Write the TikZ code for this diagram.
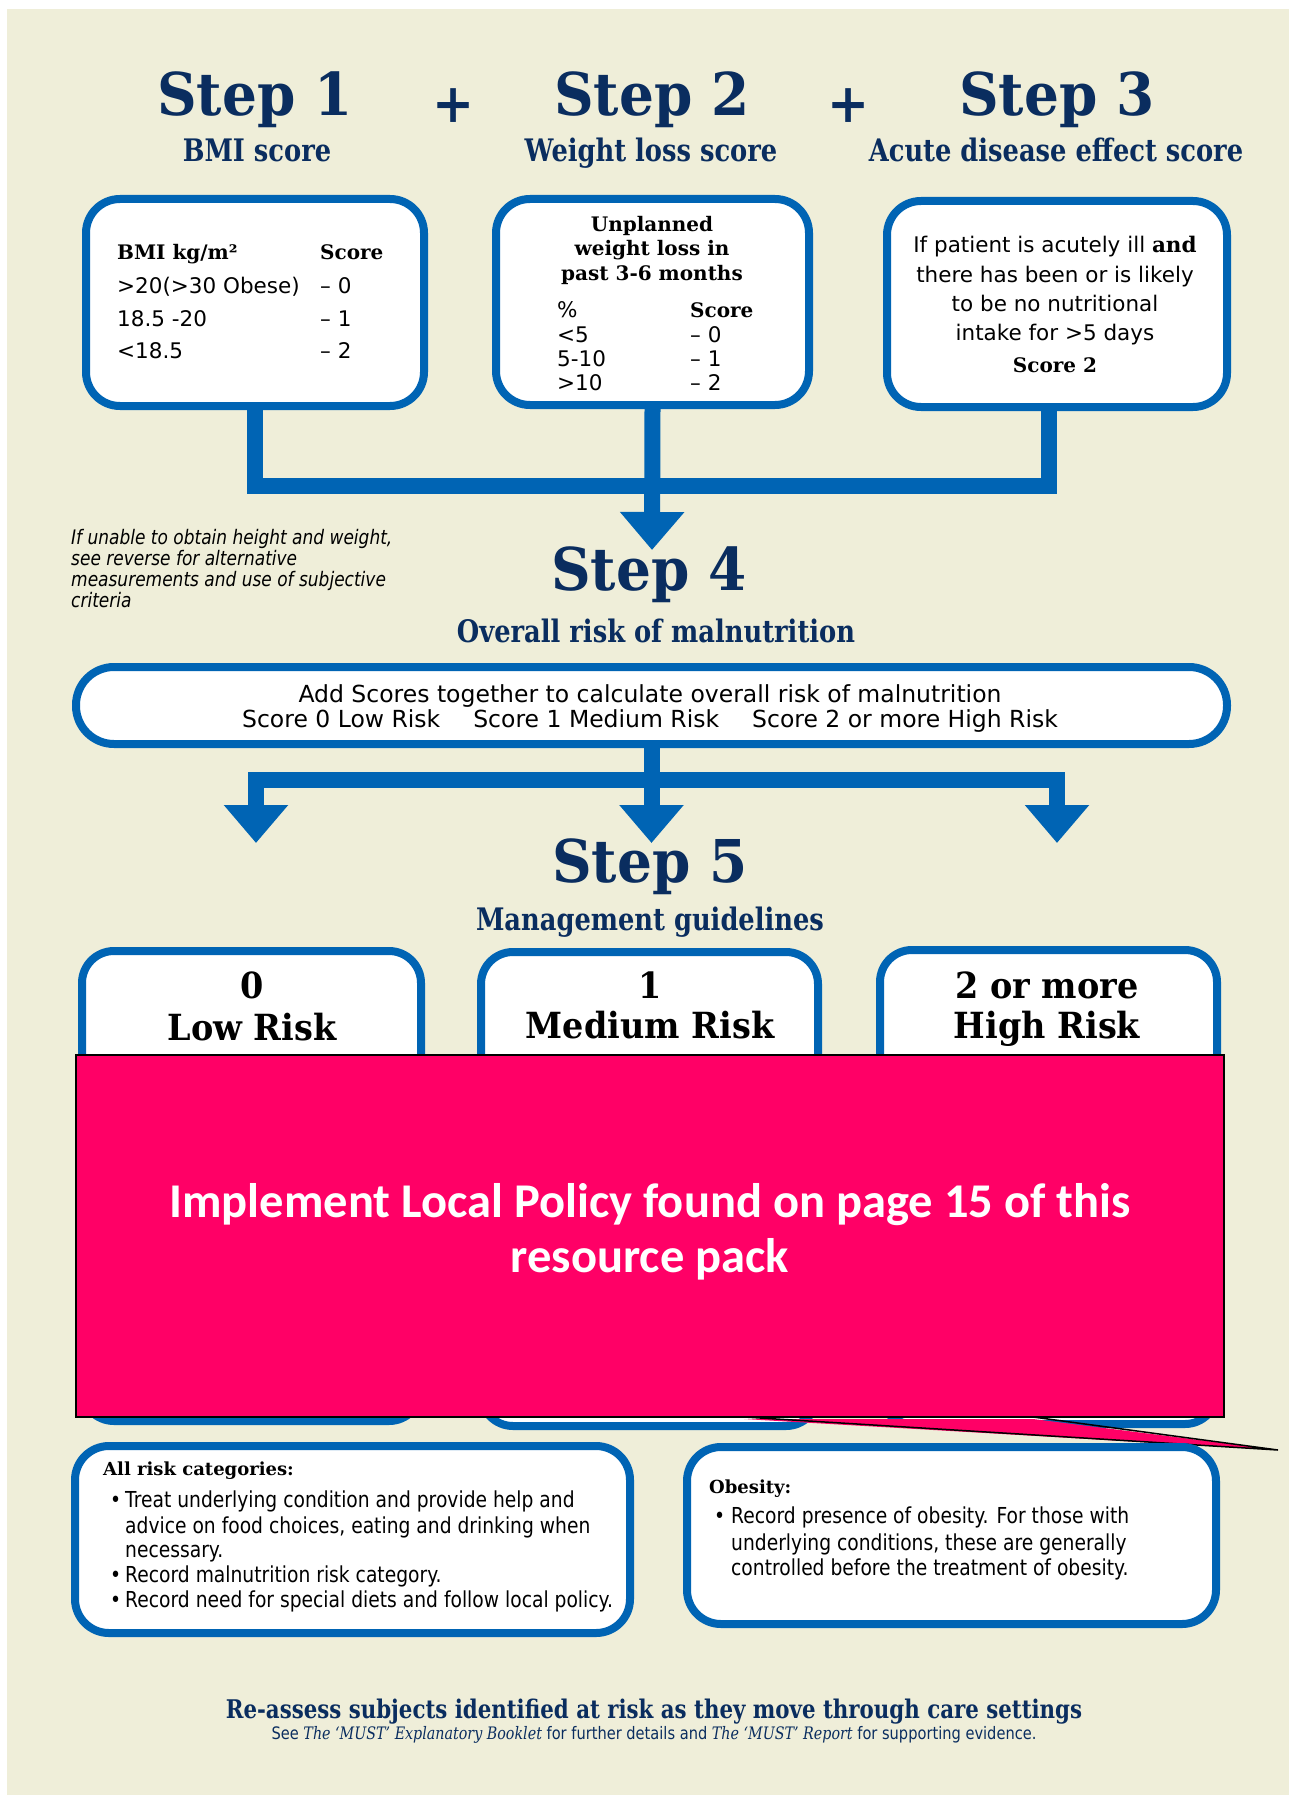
\documentclass[tikz,border=0pt]{standalone}
\usepackage{fontspec}
\setmainfont{DejaVu Serif}
\newfontfamily\stepfont[FakeStretch=0.93]{DejaVu Serif}
\newfontfamily\subfont[FakeStretch=0.83]{DejaVu Serif}
\newfontfamily\boxsans{DejaVu Sans}
\newfontfamily\condsans[FakeStretch=0.85]{DejaVu Sans}
\newfontfamily\pinkfont{Carlito}
\usetikzlibrary{arrows.meta}
\definecolor{mustnavy}{RGB}{10,45,95}
\definecolor{mustblue}{RGB}{0,100,180}
\definecolor{paper}{RGB}{239,238,217}
\definecolor{policypink}{RGB}{255,0,102}
\newcommand\setfs[1]{\fontsize{#1}{#1}\selectfont}

\begin{document}
\begin{tikzpicture}[
  x=1pt, y=-1pt,
  every node/.style={inner sep=0pt},
  stephead/.style={anchor=base, text=mustnavy, font=\stepfont\bfseries\setfs{59}},
  subhead/.style={anchor=base, text=mustnavy, font=\subfont\bfseries\setfs{31}},
  plus/.style={text=mustnavy, font=\stepfont\bfseries\setfs{54}},
  scorebox/.style={draw=mustblue, line width=8pt, fill=white, rounded corners=34pt},
  bar/.style={draw=mustblue, line width=16pt},
  >={Triangle[width=62pt,length=38pt]},
  boxhead/.style={anchor=base west, font=\bfseries\setfs{20}},
  boxtxt/.style={anchor=base west, font=\boxsans\setfs{21.5}},
  risktxt/.style={anchor=base, font=\boxsans\setfs{23.5}},
  risklabel/.style={anchor=base, font=\stepfont\bfseries\setfs{36}},
  notetxt/.style={anchor=base west, font=\condsans\itshape\setfs{20}},
  listtxt/.style={anchor=base west, font=\condsans\setfs{22}},
  policytxt/.style={anchor=base, text=white, font=\pinkfont\bfseries\setfs{48.5}},
]
  \useasboundingbox (0,0) rectangle (1289,1795);
  \fill[paper] (7,9) rectangle (1289,1795);

  % Step headings and sub titles
  \node[stephead] (step1) at (255,116) {Step 1};
  \node[plus] (plus1) at (454,106) {+};
  \node[stephead] (step2) at (652,116) {Step 2};
  \node[plus] (plus2) at (849,106) {+};
  \node[stephead] (step3) at (1057,116) {Step 3};
  \node[subhead] (sub1) at (257,162) {BMI score};
  \node[subhead] (sub2) at (651,162) {Weight loss score};
  \node[subhead] (sub3) at (1056,162) {Acute disease effect score};

  % Score boxes
  \node[scorebox, minimum width=338pt, minimum height=207pt] (bmibox) at (255,302.5) {};
  \node[scorebox, minimum width=313pt, minimum height=206pt] (wlbox) at (652.5,302) {};
  \node[scorebox, minimum width=340pt, minimum height=206pt] (acbox) at (1057,304) {};

  \node[boxhead] (bmihead) at (117,260) {BMI kg/m²};
  \node[boxhead] (bmiscore) at (320,260) {Score};
  \node[boxtxt] (bmir1) at (117,293) {>20(>30 Obese)};
  \node[boxtxt] (bmis1) at (320,293) {– 0};
  \node[boxtxt] (bmir2) at (117,326) {18.5 -20};
  \node[boxtxt] (bmis2) at (320,326) {– 1};
  \node[boxtxt] (bmir3) at (117,358) {<18.5};
  \node[boxtxt] (bmis3) at (320,358) {– 2};

  \node[boxhead, anchor=base] (wlhead1) at (652,232) {Unplanned};
  \node[boxhead, anchor=base] (wlhead2) at (652,256) {weight loss in};
  \node[boxhead, anchor=base] (wlhead3) at (652,280) {past 3-6 months};
  \node[boxtxt] (wlpct) at (557,317) {\%};
  \node[boxhead] (wlscore) at (690,317) {Score};
  \node[boxtxt] (wlr1) at (557,342) {<5};
  \node[boxtxt] (wls1) at (690,342) {– 0};
  \node[boxtxt] (wlr2) at (557,366) {5-10};
  \node[boxtxt] (wls2) at (690,366) {– 1};
  \node[boxtxt] (wlr3) at (557,390) {>10};
  \node[boxtxt] (wls3) at (690,390) {– 2};

  \node[boxtxt, anchor=base] (ac1) at (1055,253) {If patient is acutely ill {\rmfamily\bfseries and}};
  \node[boxtxt, anchor=base] (ac2) at (1055,282) {there has been or is likely};
  \node[boxtxt, anchor=base] (ac3) at (1055,311) {to be no nutritional};
  \node[boxtxt, anchor=base] (ac4) at (1055,340) {intake for >5 days};
  \node[boxhead, anchor=base] (acscore) at (1055,372) {Score 2};

  % Bars into step 4
  \coordinate (j3) at (1049,486);
  \coordinate (tip4) at (652,550);
  \draw[bar] (bmibox.south) |- (j3) -- (j3 |- acbox.south);
  \draw[bar, ->] (wlbox.south) -- (tip4);

  \node[notetxt] (note1) at (71,544) {If unable to obtain height and weight,};
  \node[notetxt] (note2) at (71,565) {see reverse for alternative};
  \node[notetxt] (note3) at (71,586) {measurements and use of subjective};
  \node[notetxt] (note4) at (71,607) {criteria};

  \node[stephead] (step4) at (649,590) {Step 4};
  \node[subhead] (sub4) at (656,642) {Overall risk of malnutrition};

  \node[scorebox, rounded corners=38pt, minimum width=1151pt, minimum height=77pt] (riskbox) at (651.5,705.5) {};
  \node[risktxt] (risk1) at (650,702) {Add Scores together to calculate overall risk of malnutrition};
  \node[risktxt] (risk2) at (650,727) {Score 0 Low Risk\hspace{33pt}Score 1 Medium Risk\hspace{33pt}Score 2 or more High Risk};

  % Bars into step 5
  \coordinate (k3) at (1057,780);
  \coordinate (t1) at (256,843);
  \coordinate (t3) at (1057,843);
  \draw[bar, ->] (riskbox.south) -- (riskbox.south |- t1);
  \draw[bar, <->] (t1) |- (k3) -- (t3);

  \node[stephead] (step5) at (650,882) {Step 5};
  \node[subhead] (sub5) at (650,930) {Management guidelines};

  % Risk boxes
  \node[scorebox, rounded corners=32pt, minimum width=339pt, minimum height=470pt] (lowbox) at (251.5,1186) {};
  \node[scorebox, rounded corners=32pt, minimum width=337pt, minimum height=474pt] (medbox) at (649.5,1189) {};
  \node[scorebox, rounded corners=32pt, minimum width=337pt, minimum height=474pt] (highbox) at (1048.5,1187) {};
  \node[risklabel] (low1) at (252,998) {0};
  \node[risklabel] (low2) at (252,1040) {Low Risk};
  \node[risklabel] (med1) at (650,998) {1};
  \node[risklabel] (med2) at (650,1038) {Medium Risk};
  \node[risklabel] (high1) at (1047,998) {2 or more};
  \node[risklabel] (high2) at (1047,1038) {High Risk};

  % Local policy callout
  \node[fill=policypink, draw=black, line width=1.5pt, minimum width=1148pt, minimum height=362pt] (policy) at (650,1236) {};
  \coordinate (tailL) at (744,1417);
  \coordinate (tailR) at (1033,1417);
  \coordinate (tailtip) at (1278,1450);
  \fill[policypink] ([yshift=-2pt]tailL) -- (tailtip) -- ([yshift=-2pt]tailR) -- cycle;
  \draw[line width=1.5pt] (tailL) -- (tailtip) -- (tailR);
  \node[policytxt] (pol1) at (650,1217) {Implement Local Policy found on page 15 of this};
  \node[policytxt] (pol2) at (650,1272) {resource pack};

  % Bottom boxes
  \node[scorebox, minimum width=555pt, minimum height=187pt] (allbox) at (352.5,1539.5) {};
  \node[scorebox, minimum width=529pt, minimum height=177pt] (obbox) at (951.5,1535.5) {};
  \node[boxhead, font=\bfseries\setfs{18}] (allhead) at (103,1475) {All risk categories:};
  \node[listtxt] (allb1) at (110,1507) {•};
  \node[listtxt] (all1) at (125,1507) {Treat underlying condition and provide help and};
  \node[listtxt] (all2) at (125,1533) {advice on food choices, eating and drinking when};
  \node[listtxt] (all3) at (125,1557) {necessary.};
  \node[listtxt] (allb2) at (110,1582) {•};
  \node[listtxt] (all4) at (125,1582) {Record malnutrition risk category.};
  \node[listtxt] (allb3) at (110,1607) {•};
  \node[listtxt] (all5) at (125,1607) {Record need for special diets and follow local policy.};
  \node[boxhead, font=\bfseries\setfs{18}] (obhead) at (709,1493) {Obesity:};
  \node[listtxt] (obb1) at (714,1523) {•};
  \node[listtxt] (ob1) at (731,1523) {Record presence of obesity. For those with};
  \node[listtxt] (ob2) at (731,1550) {underlying conditions, these are generally};
  \node[listtxt] (ob3) at (731,1575) {controlled before the treatment of obesity.};

  % Footer
  \node[subhead, font=\subfont\bfseries\setfs{25.7}] (reassess) at (654,1718) {Re-assess subjects identified at risk as they move through care settings};
  \node[anchor=base, text=mustnavy, font=\condsans\setfs{17.2}] (seemust) at (654,1739) {See {\subfont\itshape The ‘MUST’ Explanatory Booklet} for further details and {\subfont\itshape The ‘MUST’ Report} for supporting evidence.};
\end{tikzpicture}
\end{document}
